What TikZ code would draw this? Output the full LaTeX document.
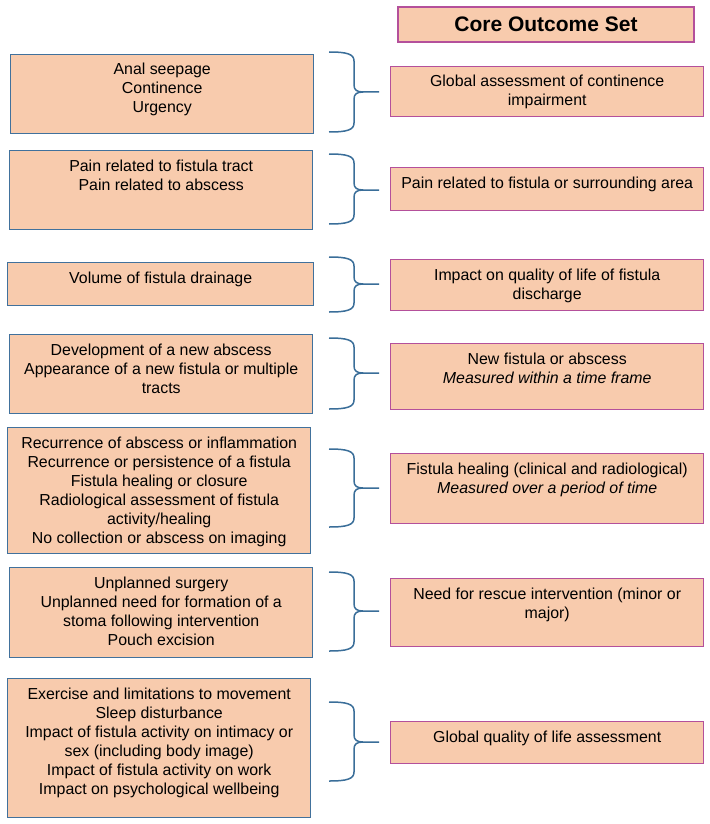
\documentclass[tikz,border=0pt]{standalone}
\usepackage{fontspec}
\setmainfont{Liberation Sans}
\definecolor{peach}{HTML}{F8CBAD}
\definecolor{lblue}{HTML}{41719C}
\definecolor{rpink}{HTML}{B4509B}
\definecolor{bcol}{HTML}{3A6E99}
\newcommand{\cbox}[7]{%
  \node[#2, anchor=north west, inner sep=0pt] (#1) at (#3,#4)
    {\parbox[c][\dimexpr #6pt-#4pt\relax][t]{\dimexpr #5pt-#3pt\relax}{\centering\vspace*{7pt}\strut #7\par}};}
\newcommand{\cbrace}[4]{%
  \coordinate (tip#1) at (379,#4);
  \coordinate (top#1) at (329,#2);
  \coordinate (bot#1) at (329,#3);
  \draw[bracestyle] (top#1) .. controls (347,#2) and (354,{#2+2}) .. (354,{#2+9})
     -- (354,{#4-7}) .. controls (354,{#4-2}) and (357,#4) .. (363,#4) -- (tip#1)
     (363,#4) .. controls (357,#4) and (354,{#4+2}) .. (354,{#4+7})
     -- (354,{#3-9}) .. controls (354,{#3-2}) and (347,#3) .. (bot#1);}
\begin{document}
\begin{tikzpicture}[x=1pt,y=-1pt,
  lbox/.style={draw=lblue, fill=peach, line width=1.4pt, font=\fontsize{15.9}{19}\selectfont},
  rbox/.style={draw=rpink, fill=peach, line width=1.4pt, font=\fontsize{15.9}{19}\selectfont},
  bracestyle/.style={draw=bcol, line width=1.5pt}]
\useasboundingbox (0,0) rectangle (709,824);
\fill[white] (0,0) rectangle (709,824);

\node[draw=rpink, fill=peach, line width=1.4pt, minimum width=296pt, minimum height=35pt,
  inner sep=0pt, font=\bfseries\fontsize{21}{25}\selectfont] (title) at (546,24.5) {Core Outcome Set};

\cbox{l1}{lbox}{10}{54}{313}{133}{Anal seepage\\Continence\\Urgency}
\cbox{l2}{lbox}{9}{150}{312}{229}{Pain related to fistula tract\\Pain related to abscess}
\cbox{l3}{lbox}{7}{262}{313}{305}{Volume of fistula drainage}
\cbox{l4}{lbox}{9}{334}{312}{413}{Development of a new abscess\\Appearance of a new fistula or multiple\\tracts}
\cbox{l5}{lbox}{7}{427}{310}{553}{Recurrence of abscess or inflammation\\Recurrence or persistence of a fistula\\Fistula healing or closure\\Radiological assessment of fistula\\activity/healing\\No collection or abscess on imaging}
\cbox{l6}{lbox}{9}{567}{312}{657}{Unplanned surgery\\Unplanned need for formation of a\\stoma following intervention\\Pouch excision}
\cbox{l7}{lbox}{7}{678}{310}{817}{Exercise and limitations to movement\\Sleep disturbance\\Impact of fistula activity on intimacy or\\sex (including body image)\\Impact of fistula activity on work\\Impact on psychological wellbeing}

\cbox{r1}{rbox}{390}{66}{703}{116}{Global assessment of continence\\impairment}
\cbox{r2}{rbox}{390}{167}{703}{210}{Pain related to fistula or surrounding area}
\cbox{r3}{rbox}{390}{259}{703}{310}{Impact on quality of life of fistula\\discharge}
\cbox{r4}{rbox}{390}{343}{703}{409}{New fistula or abscess\\\textit{Measured within a time frame}}
\cbox{r5}{rbox}{390}{453}{703}{523}{Fistula healing (clinical and radiological)\\\textit{Measured over a period of time}}
\cbox{r6}{rbox}{390}{578}{703}{646}{Need for rescue intervention (minor or\\major)}
\cbox{r7}{rbox}{390}{721}{703}{763}{Global quality of life assessment}

\cbrace{1}{52}{132}{92}
\cbrace{2}{154}{224}{190}
\cbrace{3}{257}{312}{284}
\cbrace{4}{338}{409}{373}
\cbrace{5}{449}{527}{488}
\cbrace{6}{572}{651}{611}
\cbrace{7}{702}{781}{742}
\end{tikzpicture}
\end{document}
